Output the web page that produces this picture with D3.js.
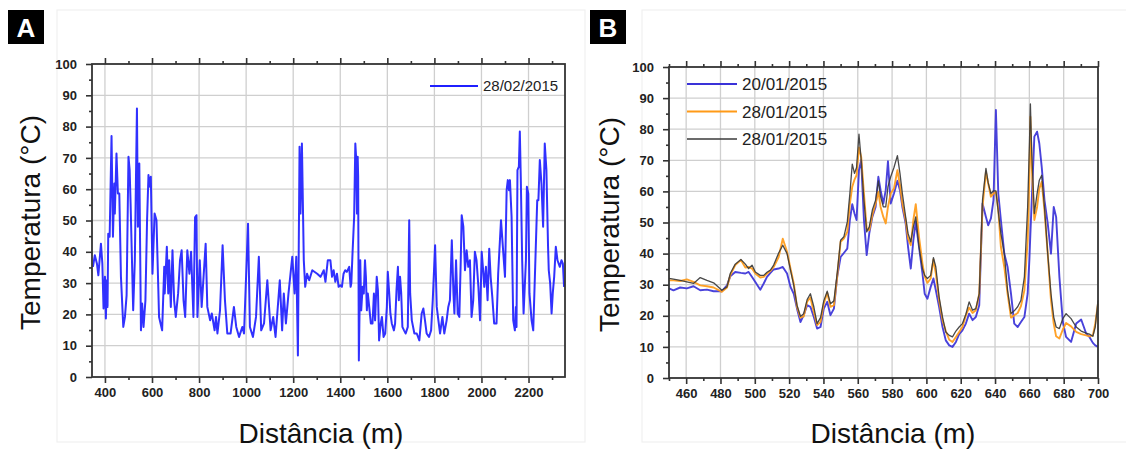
<!DOCTYPE html>
<html>
<head>
<meta charset="utf-8">
<script src="https://cdn.jsdelivr.net/npm/d3@7"></script>
<style>
  body { margin: 0; background: #fff; }
  text { font-family: "Liberation Sans", Arial, sans-serif; }
</style>
</head>
<body>
<svg id="chart" width="1126" height="452"></svg>
<script>
// panel A - one survey
const distA = [349,357,366,372,383,389,394,400,404,408,411,414,420,428,434,440,442,449,455,461,468,478,485,492,500,505,509,520,527,536,540,546,553,558,564,572,579,585,589,595,602,611,619,630,643,652,654,663,669,673,680,687,694,701,711,719,726,734,741,750,759,766,776,783,789,793,803,811,828,835,847,854,866,872,878,889,900,910,920,934,948,958,970,984,991,1008,1016,1029,1042,1054,1064,1076,1090,1104,1115,1125,1143,1153,1160,1169,1180,1196,1206,1213,1220,1227,1231,1237,1245,1251,1259,1268,1281,1302,1316,1330,1337,1347,1358,
  1365,1372,1379,1386,1393,1400,1407,1414,1421,1428,1438,1444,1447,1452,1459,1464,1468,1471,1474,1476,1479,1485,1489,1495,1500,1505,1509,1513,1517,1523,1530,1537,1543,1548,1555,1560,1565,1572,1577,1584,1591,1598,1602,1608,1613,1619,1628,1633,1639,1645,1649,1654,1659,1664,1671,1678,1687,1693,1697,1704,1715,1725,1736,1746,1753,1760,1767,1777,1786,1793,1803,1810,1817,1824,1834,1842,1852,1859,1866,1874,1881,1885,1892,1899,1906,1912,1916,1923,1930,1937,1944,1951,1958,1965,1972,1979,1987,1994,2001,2006,2012,2019,2026,2033,2039,2046,2054,2064,2071,2083,2090,2100,2107,2112,2117,2121,2128,2135,2142,2146,2149,2153,2159,2163,2167,2173,2179,2189,2193,2199,2204,2213,2220,2227,2237,2242,2248,2255,2262,2269,2276,2283,2286,2292,2298,2303,2309,2316,2323,2333,2340,2346,2351];
const tempA = [35.2,38.9,36.2,32.5,42.6,36.2,21.9,32.0,18.7,30.9,22.4,45.8,44.8,77.0,44.8,61.8,52.2,71.4,58.6,58.6,32.0,16.0,19.2,26.1,70.4,66.1,55.4,21.3,37.3,85.8,48.0,68.2,14.9,23.5,16.0,24.5,50.1,64.5,60.8,64.0,33.0,52.2,50.1,19.2,14.9,35.2,26.7,41.6,26.7,37.3,22.4,40.5,24.5,19.2,26.7,37.3,40.5,24.5,19.2,40.5,33.0,40.0,19.2,51.0,51.7,19.2,37.3,22.4,42.6,22.4,18.1,20.3,14.9,19.2,13.9,21.3,42.1,24.5,13.9,13.9,22.4,16.0,12.8,16.0,13.9,49.0,16.0,12.8,19.2,38.4,14.9,17.1,30.9,14.9,19.2,12.8,30.9,14.9,26.7,17.1,26.7,38.4,26.7,38.4,6.9,73.6,52.2,74.6,37.3,28.8,33.0,30.9,34.1,33.0,32.0,34.1,30.4,37.3,37.3,
  32.0,34.1,30.4,33.0,28.8,29.3,28.8,33.0,34.1,33.6,35.2,28.8,29.9,39.4,51.2,74.6,69.3,52.2,70.4,64.0,5.3,37.3,21.3,28.8,26.7,37.3,32.0,21.3,26.7,22.4,17.1,17.1,26.7,18.1,32.0,27.7,11.7,17.1,19.2,12.8,13.9,22.4,33.6,26.7,20.3,17.1,14.9,17.1,27.7,35.2,24.5,32.0,26.7,16.0,14.9,13.9,16.0,50.1,26.7,18.1,13.9,13.9,11.7,20.3,21.9,18.1,13.9,12.8,14.9,24.5,42.1,22.4,18.1,13.9,19.2,13.9,18.1,22.4,24.5,43.7,26.7,20.3,37.3,20.3,19.2,37.3,51.7,48.0,34.1,40.5,35.2,37.3,19.2,24.5,40.0,37.3,28.8,18.1,40.0,35.2,28.8,35.2,24.5,41.0,32.0,25.6,17.1,17.1,33.0,50.1,42.6,32.0,59.7,62.9,59.7,62.9,51.2,18.1,14.9,22.4,16.0,66.1,67.2,78.4,64.0,37.3,20.3,37.3,60.8,58.6,26.7,18.1,14.9,32.0,56.5,56.5,69.3,61.8,48.0,74.6,66.1,41.6,34.1,29.9,20.3,26.7,32.0,41.6,37.3,35.2,37.3,36.2,28.8];

// panel B - three surveys on the same stretch
const distB = [450,452.6,456.5,460.4,464.3,468.2,472.1,476.0,480.8,483.8,485.7,488.6,491.9,494.5,496.4,498.4,500.3,503.2,505.2,507.1,509.1,511.0,513.9,516.3,518.8,520.8,522.7,524.6,526.6,528.5,530.5,532.4,534.4,536.3,538.3,540.2,542.2,544.1,546.1,548.0,550.0,551.9,553.9,555.4,556.8,558.1,559.3,560.7,562.0,563.6,565.2,566.7,568.5,570.4,572.0,573.3,574.9,576.3,577.6,579.2,581.1,583.1,584.6,586.0,587.9,589.3,590.9,592.4,593.8,595.7,597.7,599.0,600.6,602.5,604.1,605.5,607.4,609.4,611.3,613.3,615.2,617.2,619.1,621.0,623.0,624.9,626.9,628.8,630.8,632.7,634.7,636.0,637.6,639.1,640.5,641.9,643.4,645.4,647.3,649.3,651.2,653.2,655.1,657.1,659.0,660.0,660.6,661.4,662.9,664.5,665.8,667.2,668.8,670.7,672.6,674.2,675.6,677.5,679.5,681.4,684.3,687.3,690.2,693.1,695.0,697.0,698.4,700];
const tempB1 = [28.8,28.2,29.1,28.8,29.5,28.2,28.4,27.9,27.9,29.8,32.7,34.1,33.8,33.6,34.1,32.5,30.9,28.4,30.4,32.5,33.8,34.9,35.2,35.7,33.6,29.3,27.1,22.3,18.0,20.2,23.4,22.9,19.6,15.9,16.4,22.3,24.5,20.2,22.3,32.5,38.9,40.2,41.6,50.8,55.9,52.9,50.8,66.8,70.1,50.8,39.5,46.5,51.8,55.0,64.7,60.4,56.1,60.4,69.7,56.1,59.3,63.4,60.4,55.0,49.7,42.2,35.2,44.3,50.2,42.2,33.6,27.1,25.5,29.3,32.0,28.2,22.9,16.4,12.1,10.5,10.0,11.6,14.1,15.3,17.5,20.7,18.6,19.6,23.4,56.1,51.8,49.1,51.3,57.2,86.2,59.3,50.8,40.0,35.7,27.1,17.5,16.4,18.0,19.6,27.1,37.9,46.5,57.2,77.6,79.2,75.4,67.9,57.2,49.7,40.0,55.0,51.8,32.5,18.0,13.2,11.6,17.5,18.8,14.3,13.2,11.3,10.5,10.0];
const tempB2 = [31.4,31.4,31.2,31.7,30.9,29.8,29.5,29.1,27.7,29.1,33.0,36.3,37.9,35.5,35.7,35.2,33.6,32.3,32.5,33.6,34.4,35.7,38.9,44.8,40.6,35.2,30.4,22.9,19.4,19.8,24.5,25.9,21.2,17.0,18.0,23.9,27.4,22.9,23.4,32.5,43.8,44.8,47.0,56.1,61.5,63.8,65.2,74.1,71.1,59.3,48.1,47.5,52.4,56.1,59.9,55.0,51.8,49.7,55.0,59.3,60.9,66.8,62.0,56.1,50.8,44.8,42.7,50.8,55.9,45.4,36.8,32.7,30.6,32.0,38.1,33.6,25.0,18.6,15.1,12.3,11.6,13.2,14.8,16.4,20.1,22.6,20.9,21.8,27.1,55.0,66.3,62.6,58.3,59.3,59.9,54.0,42.2,35.7,27.1,19.4,20.2,20.9,23.1,28.2,44.3,64.7,84.0,67.9,50.8,55.0,60.9,63.1,54.0,40.0,25.0,17.5,13.4,12.7,15.6,17.7,16.6,14.8,14.1,13.7,13.4,13.7,17.5,23.9];
const tempB3 = [32.0,31.8,31.4,30.9,30.4,32.3,31.4,30.6,28.2,29.3,33.6,36.6,38.1,36.6,35.2,36.3,34.1,33.0,33.0,34.0,34.7,36.3,40.2,42.7,40.0,34.7,29.8,23.4,19.8,20.7,25.2,27.1,22.9,17.5,19.4,24.8,27.9,23.9,24.8,33.6,44.3,45.4,50.2,59.3,68.8,65.8,67.7,78.4,70.1,57.2,47.0,48.6,54.0,57.2,63.4,58.3,55.0,55.0,61.5,64.7,67.7,71.5,65.8,59.3,51.8,46.5,43.8,48.6,51.8,42.2,35.2,33.0,32.0,33.0,38.7,35.7,26.1,19.6,14.8,13.7,13.2,15.1,16.4,17.5,20.5,24.5,21.8,22.3,27.1,57.2,67.4,62.8,59.3,60.2,60.2,53.4,46.5,40.0,28.2,20.7,21.6,22.9,25.0,32.5,55.0,74.4,88.1,72.2,52.9,59.3,63.6,65.2,55.0,40.0,27.1,19.6,16.4,15.9,19.1,20.7,19.1,16.4,15.1,14.4,14.1,13.4,16.4,25.0];

const legendA = ["28/02/2015"];
const legendB = ["20/01/2015", "28/01/2015", "28/01/2015"];
const colorsB = ["#3a32d8", "#ff9a17", "#3a3a3a"];

const yTicks = [0, 10, 20, 30, 40, 50, 60, 70, 80, 90, 100];
const xTicksA = [400, 600, 800, 1000, 1200, 1400, 1600, 1800, 2000, 2200];
const xTicksB = [460, 480, 500, 520, 540, 560, 580, 600, 620, 640, 660, 680, 700];

const svg = d3.select("#chart");
const axisColor = "#333";
const gridColor = "#cfcfcf";

const drawPanel = function(p) {
    const g = svg.append("g");
    const x = d3.scaleLinear().domain(p.xDomain).range([p.left, p.right]);
    const y = d3.scaleLinear().domain([0, 100]).range([p.bottom, p.top]);

    // faint outer frame of the figure panel
    g.append("rect")
        .attr("x", p.frame[0]).attr("y", p.frame[1])
        .attr("width", p.frame[2]).attr("height", p.frame[3])
        .attr("fill", "none").attr("stroke", "#f0f0f0").attr("stroke-width", 1.2);

    // grid
    g.append("g").selectAll("line.gx")
        .data(p.xTicks.filter(d => d < p.xDomain[1]))
        .enter().append("line")
        .attr("x1", d => x(d)).attr("x2", d => x(d))
        .attr("y1", p.top).attr("y2", p.bottom)
        .attr("stroke", gridColor).attr("stroke-width", 1.3);
    g.append("g").selectAll("line.gy")
        .data(yTicks.filter(d => d > 0 && d < 100))
        .enter().append("line")
        .attr("x1", p.left).attr("x2", p.right)
        .attr("y1", d => y(d)).attr("y2", d => y(d))
        .attr("stroke", gridColor).attr("stroke-width", 1.3);

    // minor ticks (no labels)
    const minorX = p.xMinor;
    const minorY = yTicks.slice(0, -1).map(d => d + 5);

    const styleAxis = sel => {
        sel.select(".domain").remove();
        sel.selectAll(".tick line").attr("stroke", axisColor).attr("stroke-width", 1.6);
        sel.selectAll(".tick text")
            .attr("fill", "#222")
            .style("font-size", "13px")
            .style("font-weight", "bold");
    };

    g.append("g").attr("transform", "translate(0," + p.bottom + ")")
        .call(d3.axisBottom(x).tickValues(minorX).tickSize(3).tickFormat(""))
        .call(styleAxis);
    g.append("g").attr("transform", "translate(0," + p.bottom + ")")
        .call(d3.axisBottom(x).tickValues(p.xTicks).tickSize(6).tickPadding(5).tickFormat(d3.format("d")))
        .call(styleAxis);
    g.append("g").attr("transform", "translate(0," + p.top + ")")
        .call(d3.axisTop(x).tickValues(minorX).tickSize(3).tickFormat(""))
        .call(styleAxis);
    g.append("g").attr("transform", "translate(0," + p.top + ")")
        .call(d3.axisTop(x).tickValues(p.xTicks).tickSize(6).tickFormat(""))
        .call(styleAxis);
    g.append("g").attr("transform", "translate(" + p.left + ",0)")
        .call(d3.axisLeft(y).tickValues(minorY).tickSize(3).tickFormat(""))
        .call(styleAxis);
    g.append("g").attr("transform", "translate(" + p.left + ",0)")
        .call(d3.axisLeft(y).tickValues(yTicks).tickSize(6).tickPadding(9).tickFormat(d3.format("d")))
        .call(styleAxis);

    // data lines
    const line = d3.line()
        .x(d => x(d[0]))
        .y(d => y(d[1]));
    p.series.forEach(s => {
        g.append("path")
            .datum(p.dist.map((d, i) => [d, s.values[i]]))
            .attr("d", line)
            .attr("fill", "none")
            .attr("stroke", s.color)
            .attr("stroke-width", s.width)
            .attr("stroke-linejoin", "round")
            .attr("stroke-opacity", 0.92);
    });

    // plot frame
    g.append("rect")
        .attr("x", p.left).attr("y", p.top)
        .attr("width", p.right - p.left).attr("height", p.bottom - p.top)
        .attr("fill", "none").attr("stroke", axisColor).attr("stroke-width", 1.8);

    // legend
    p.series.forEach((s, i) => {
        const ly = p.legend.y + i * p.legend.step;
        g.append("line")
            .attr("x1", p.legend.x).attr("x2", p.legend.x + p.legend.len)
            .attr("y1", ly).attr("y2", ly)
            .attr("stroke", s.color).attr("stroke-width", s.width);
        g.append("text")
            .attr("x", p.legend.x + p.legend.len + 5)
            .attr("y", ly)
            .attr("dy", "0.36em")
            .style("font-size", p.legend.size + "px")
            .attr("fill", "#222")
            .text(s.name);
    });

    // axis titles
    g.append("text")
        .attr("transform", "translate(" + p.yTitleX + "," + ((p.top + p.bottom) / 2 + 2) + ") rotate(-90)")
        .attr("text-anchor", "middle")
        .style("font-size", "28px")
        .attr("fill", "#111")
        .text("Temperatura (°C)");
    g.append("text")
        .attr("x", p.xTitleX).attr("y", 443)
        .attr("text-anchor", "middle")
        .style("font-size", "28px")
        .attr("fill", "#111")
        .text("Distância (m)");

    // panel letter
    g.append("rect")
        .attr("x", p.tag[0]).attr("y", 10).attr("width", 36).attr("height", 34)
        .attr("fill", "#000");
    g.append("text")
        .attr("x", p.tag[0] + 18).attr("y", 37)
        .attr("text-anchor", "middle")
        .style("font-size", "26px").style("font-weight", "bold")
        .attr("fill", "#fff")
        .text(p.tag[1]);
};

drawPanel({
    xDomain: [345, 2355], left: 92, right: 565, top: 64, bottom: 377,
    xTicks: xTicksA, xMinor: [500, 700, 900, 1100, 1300, 1500, 1700, 1900, 2100, 2300],
    dist: distA,
    series: [{name: legendA[0], values: tempA, color: "#1f1fff", width: 2}],
    legend: {x: 430, y: 86, step: 0, len: 48, size: 15},
    yTitleX: 40, xTitleX: 321, frame: [57, 10, 528, 432], tag: [8, "A"]
});

drawPanel({
    xDomain: [450, 700], left: 669, right: 1098, top: 67, bottom: 378,
    xTicks: xTicksB, xMinor: [450, 470, 490, 510, 530, 550, 570, 590, 610, 630, 650, 670, 690],
    dist: distB,
    series: [
        {name: legendB[0], values: tempB1, color: colorsB[0], width: 1.9},
        {name: legendB[1], values: tempB2, color: colorsB[1], width: 1.9},
        {name: legendB[2], values: tempB3, color: colorsB[2], width: 1.3}
    ],
    legend: {x: 687, y: 84, step: 27.5, len: 50, size: 17},
    yTitleX: 619, xTitleX: 893, frame: [642, 10, 490, 432], tag: [590, "B"]
});
</script>
</body>
</html>
